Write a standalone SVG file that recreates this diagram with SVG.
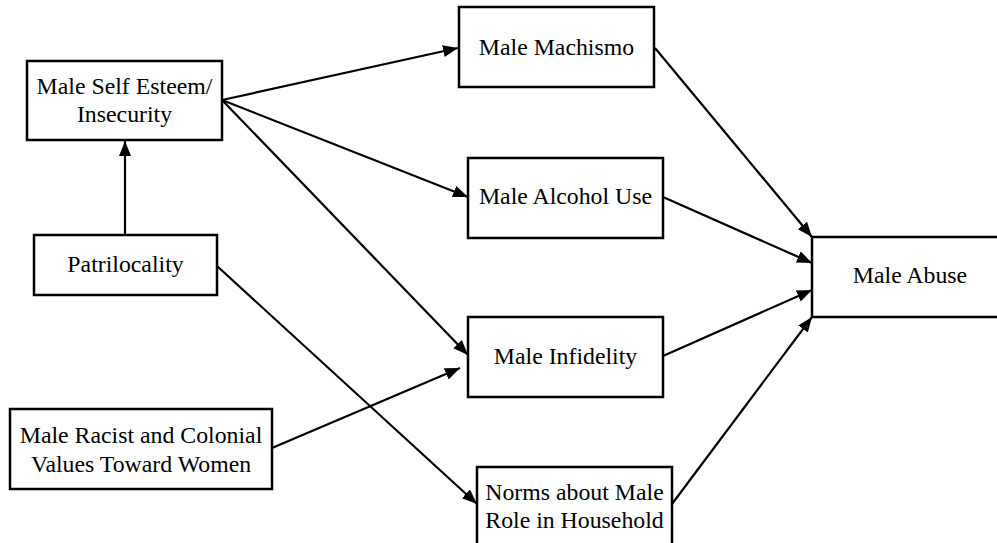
<svg xmlns="http://www.w3.org/2000/svg" width="997" height="543" viewBox="0 0 997 543">
<style>
.box{fill:#fff;stroke:#000;stroke-width:2.5}
.t{font-family:'Liberation Serif','Times New Roman',serif;font-size:23.8px;fill:#000;text-anchor:middle}
.c{stroke:#000;stroke-width:2.2;fill:none;marker-end:url(#ah)}
</style>
<defs>
<marker id="ah" markerUnits="userSpaceOnUse" markerWidth="16" markerHeight="14" refX="15" refY="6" orient="auto">
<path d="M0,0 L15,6 L0,12 Z" fill="#000"/>
</marker>
</defs>
<rect width="997" height="543" fill="#fff"/>
<g id="connectors">
<line class="c" x1="125" y1="235" x2="125" y2="141"/>
<line class="c" x1="222" y1="100" x2="458" y2="48"/>
<line class="c" x1="222" y1="100" x2="468" y2="197"/>
<line class="c" x1="222" y1="100" x2="468" y2="355"/>
<line class="c" x1="217" y1="266" x2="477" y2="504"/>
<line class="c" x1="272" y1="448" x2="460" y2="368"/>
<line class="c" x1="655" y1="48" x2="812" y2="237"/>
<line class="c" x1="663" y1="197" x2="812" y2="263"/>
<line class="c" x1="663" y1="356" x2="812" y2="290"/>
<line class="c" x1="672" y1="504" x2="812" y2="317"/>
</g>
<g id="self-esteem">
<rect class="box" x="27" y="61" width="195" height="79"/>
<text class="t" x="124.5" y="94">Male Self Esteem/</text>
<text class="t" x="124.5" y="122">Insecurity</text>
</g>
<g id="patrilocality">
<rect class="box" x="34" y="235" width="183" height="60"/>
<text class="t" x="125.5" y="272">Patrilocality</text>
</g>
<g id="racist">
<rect class="box" x="10" y="409" width="262" height="80"/>
<text class="t" x="141" y="443">Male Racist and Colonial</text>
<text class="t" x="141" y="472">Values Toward Women</text>
</g>
<g id="machismo">
<rect class="box" x="459" y="7" width="195" height="80"/>
<text class="t" x="556.5" y="55">Male Machismo</text>
</g>
<g id="alcohol">
<rect class="box" x="468" y="158" width="195" height="80"/>
<text class="t" x="565.5" y="204">Male Alcohol Use</text>
</g>
<g id="infidelity">
<rect class="box" x="468" y="317" width="195" height="80"/>
<text class="t" x="565.5" y="364">Male Infidelity</text>
</g>
<g id="norms">
<rect class="box" x="477" y="467" width="195" height="90"/>
<text class="t" x="574.5" y="500">Norms about Male</text>
<text class="t" x="574.5" y="528">Role in Household</text>
</g>
<g id="abuse">
<rect class="box" x="812" y="237" width="200" height="80"/>
<text class="t" x="910" y="283">Male Abuse</text>
</g>
</svg>
